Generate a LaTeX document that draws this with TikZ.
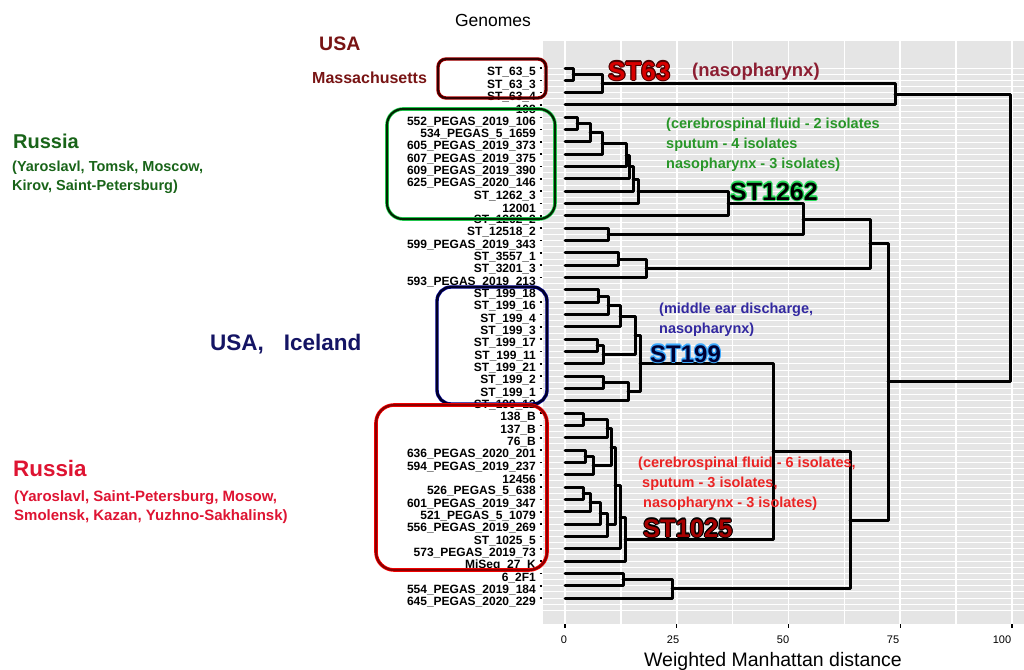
\documentclass[tikz,border=0pt]{standalone}
\usepackage{fontspec}
\setmainfont{Liberation Sans}
\usetikzlibrary{calc}
\definecolor{panel}{RGB}{229,229,229}
\definecolor{maroon}{RGB}{120,20,20}
\definecolor{rgreen}{RGB}{25,100,25}
\definecolor{navy}{RGB}{20,20,100}
\definecolor{rred}{RGB}{222,20,50}
\definecolor{nasored}{RGB}{140,30,50}
\definecolor{agreen}{RGB}{40,150,40}
\definecolor{ablue}{RGB}{50,40,160}
\definecolor{ared}{RGB}{235,35,35}
\definecolor{halogreen}{RGB}{40,220,90}
\definecolor{haloblue}{RGB}{60,170,255}
\newcommand\fsz[1]{\fontsize{#1}{#1}\selectfont}
\newcommand\halotxt[3]{%
  \rlap{\kern1.1pt\textcolor{#1}{#3}}\rlap{\kern-1.1pt\textcolor{#1}{#3}}%
  \rlap{\raisebox{1.1pt}{\textcolor{#1}{#3}}}\rlap{\raisebox{-1.1pt}{\textcolor{#1}{#3}}}%
  \rlap{\kern.8pt\raisebox{.8pt}{\textcolor{#1}{#3}}}\rlap{\kern-.8pt\raisebox{.8pt}{\textcolor{#1}{#3}}}%
  \rlap{\kern.8pt\raisebox{-.8pt}{\textcolor{#1}{#3}}}\rlap{\kern-.8pt\raisebox{-.8pt}{\textcolor{#1}{#3}}}%
  \textcolor{#2}{#3}}
\newcommand\mrg[4]{\path let \p1=($(#3)!.5!(#4)$) in coordinate (#1) at (#2pt,\y1);
  \draw[tree] (#3) -| (#1); \draw[tree] (#4) -| (#1);}
\tikzset{
  tree/.style={line width=3pt, line join=round, line cap=round},
  leaf/.style={anchor=east, inner sep=0pt, font=\bfseries\fsz{12}},
  txt/.style={anchor=base west, inner sep=0pt},
  clbox/.style={rounded corners=#1, line width=2.4pt},
}
\begin{document}
\begin{tikzpicture}[x=1pt,y=-1pt]
\useasboundingbox (0,0) rectangle (1024,669);
% panel
\fill[panel] (543,41) rectangle (1024,624);
\foreach \i in {0,...,88} {
  \pgfmathsetmacro\yy{68+12.326*(\i/2)}
  \draw[white, line width=0.9pt] (543,\yy) -- (1024,\yy);
}
\foreach \k in {0,...,8} {
  \pgfmathsetmacro\xx{565+55.875*\k}
  \draw[white, line width=1.6pt] (\xx,41) -- (\xx,624);
}
% leaves
\foreach \i/\t in {1/ST\_63\_5,2/ST\_63\_3,3/ST\_63\_4,4/108,5/552\_PEGAS\_2019\_106,6/534\_PEGAS\_5\_1659,
 7/605\_PEGAS\_2019\_373,8/607\_PEGAS\_2019\_375,9/609\_PEGAS\_2019\_390,10/625\_PEGAS\_2020\_146,
 11/ST\_1262\_3,12/12001,13/ST\_1262\_2,14/ST\_12518\_2,15/599\_PEGAS\_2019\_343,16/ST\_3557\_1,
 17/ST\_3201\_3,18/593\_PEGAS\_2019\_213,19/ST\_199\_18,20/ST\_199\_16,21/ST\_199\_4,22/ST\_199\_3,
 23/ST\_199\_17,24/ST\_199\_11,25/ST\_199\_21,26/ST\_199\_2,27/ST\_199\_1,28/ST\_199\_12,29/138\_B,
 30/137\_B,31/76\_B,32/636\_PEGAS\_2020\_201,33/594\_PEGAS\_2019\_237,34/12456,35/526\_PEGAS\_5\_638,
 36/601\_PEGAS\_2019\_347,37/521\_PEGAS\_5\_1079,38/556\_PEGAS\_2019\_269,39/ST\_1025\_5,
 40/573\_PEGAS\_2019\_73,41/MiSeq\_27\_K,42/6\_2F1,43/554\_PEGAS\_2019\_184,44/645\_PEGAS\_2020\_229} {
  \pgfmathsetmacro\yy{68+12.326*(\i-1)}
  \coordinate (l\i) at (565,\yy);
  \node[leaf] (t\i) at (536,\yy+4.3) {\t};
  \draw[line width=1.6pt] (539.5,\yy) -- (542,\yy);
}
% tree
\mrg{a1}{573}{l1}{l2}
\mrg{a2}{602}{a1}{l3}
\mrg{a3}{895}{a2}{l4}
\mrg{g1}{577}{l5}{l6}
\mrg{g2}{590}{g1}{l7}
\mrg{g3}{602}{g2}{l8}
\mrg{g4}{626}{g3}{l9}
\mrg{g5}{629}{g4}{l10}
\mrg{g6}{633}{g5}{l11}
\mrg{g7}{638}{g6}{l12}
\mrg{g8}{728}{g7}{l13}
\mrg{b1}{608}{l14}{l15}
\mrg{b2}{803}{g8}{b1}
\mrg{c1}{618}{l16}{l17}
\mrg{c2}{646}{c1}{l18}
\mrg{b3}{870}{b2}{c2}
\mrg{s1}{598}{l19}{l20}
\mrg{s2}{608}{s1}{l21}
\mrg{s3}{620}{s2}{l22}
\mrg{s4}{597}{l23}{l24}
\mrg{s5}{603}{s4}{l25}
\mrg{s6}{635}{s3}{s5}
\mrg{s7}{603}{l26}{l27}
\mrg{s8}{628}{s7}{l28}
\mrg{s9}{640}{s6}{s8}
\mrg{r1}{583}{l29}{l30}
\mrg{r2}{607}{r1}{l31}
\mrg{r3}{585}{l32}{l33}
\mrg{r4}{593}{r3}{l34}
\mrg{r5}{611}{r2}{r4}
\mrg{r6}{583}{l35}{l36}
\mrg{r7}{590}{r6}{l37}
\mrg{r8}{600}{r7}{l38}
\mrg{r9}{607}{r8}{l39}
\mrg{r10}{615}{r5}{r9}
\mrg{r11}{620}{r10}{l40}
\mrg{r12}{625}{r11}{l41}
\mrg{u1}{623}{l42}{l43}
\mrg{u2}{672}{u1}{l44}
\mrg{m1}{773}{s9}{r12}
\mrg{m2}{850}{m1}{u2}
\mrg{m3}{888}{b3}{m2}
\mrg{root}{1010}{a3}{m3}
% cluster boxes
\draw[clbox=8pt, draw=red!70!black, line width=3.4pt] (438,59) rectangle (546,98);
\draw[clbox=8pt, draw=black!80!red, line width=2pt] (438,59) rectangle (546,98);
\draw[clbox=16pt, draw=halogreen, line width=3.6pt] (387,109) rectangle (555,219);
\draw[clbox=16pt, draw=black!85!green, line width=2.2pt] (387,109) rectangle (555,219);
\draw[clbox=14pt, draw=blue!60!black, line width=3.4pt] (437,287) rectangle (547,404);
\draw[clbox=14pt, draw=black!85!blue, line width=2.2pt] (437,287) rectangle (547,404);
\draw[clbox=18pt, draw=red, line width=3.6pt] (376,405) rectangle (547,570);
\draw[clbox=18pt, draw=red!55!black, line width=2.2pt] (376,405) rectangle (547,570);
% axis
\foreach \k/\l/\lx in {0/0/564,1/25/673,2/50/783,3/75/893,4/100/1002} {
  \pgfmathsetmacro\xx{565+111.75*\k}
  \draw[line width=1.4pt] (\xx,624) -- (\xx,628);
  \node[anchor=base, inner sep=0pt, font=\fsz{11}] (tick\k) at (\lx,643) {\l};
}
\node[anchor=base, inner sep=0pt, font=\fsz{19.5}] (xtitle) at (773,666) {Weighted Manhattan distance};
\node[anchor=base, inner sep=0pt, font=\fsz{17.5}] (ytitle) at (493,27) {Genomes};
% left texts
\node[txt, text=maroon, font=\bfseries\fsz{19.5}] (usa1) at (319,51) {USA};
\node[txt, text=maroon, font=\bfseries\fsz{16}] (mass) at (312,83.5) {Massachusetts};
\node[txt, text=rgreen, font=\bfseries\fsz{20}] (rus1) at (13,148) {Russia};
\node[txt, text=rgreen, font=\bfseries\fsz{14.5}] (rus1a) at (12,171) {(Yaroslavl, Tomsk, Moscow,};
\node[txt, text=rgreen, font=\bfseries\fsz{14.5}] (rus1b) at (12,190) {Kirov, Saint-Petersburg)};
\node[txt, text=navy, font=\bfseries\fsz{22.5}] (usaice) at (210,350) {USA,\hspace{20pt}Iceland};
\node[txt, text=rred, font=\bfseries\fsz{22.4}] (rus2) at (13,476) {Russia};
\node[txt, text=rred, font=\bfseries\fsz{15}] (rus2a) at (14,501.5) {(Yaroslavl, Saint-Petersburg, Mosow,};
\node[txt, text=rred, font=\bfseries\fsz{15}] (rus2b) at (14,520) {Smolensk, Kazan, Yuzhno-Sakhalinsk)};
% right annotations
\node[txt, font=\bfseries\fsz{26}] (st63) at (608,80) {\halotxt{black!70!red}{red!85!black}{ST63}};
\node[txt, text=nasored, font=\bfseries\fsz{18.5}] (naso) at (692,76) {(nasopharynx)};
\node[txt, text=agreen, font=\bfseries\fsz{14.5}] (gn1) at (666,128) {(cerebrospinal fluid - 2 isolates};
\node[txt, text=agreen, font=\bfseries\fsz{14.5}] (gn2) at (666,148) {sputum - 4 isolates};
\node[txt, text=agreen, font=\bfseries\fsz{14.5}] (gn3) at (666,168) {nasopharynx - 3 isolates)};
\node[txt, font=\bfseries\fsz{25}] (st1262) at (730,200) {\halotxt{halogreen}{black}{ST1262}};
\node[txt, text=ablue, font=\bfseries\fsz{14.5}] (bl1) at (659,313) {(middle ear discharge,};
\node[txt, text=ablue, font=\bfseries\fsz{14.5}] (bl2) at (659,333) {nasopharynx)};
\node[txt, font=\bfseries\fsz{24}] (st199) at (650,362) {\halotxt{haloblue}{black!80!blue}{ST199}};
\node[txt, text=ared, font=\bfseries\fsz{14.5}] (rd1) at (638,467) {(cerebrospinal fluid - 6 isolates,};
\node[txt, text=ared, font=\bfseries\fsz{14.5}] (rd2) at (642,487) {sputum - 3 isolates,};
\node[txt, text=ared, font=\bfseries\fsz{14.5}] (rd3) at (643,507) {nasopharynx - 3 isolates)};
\node[txt, font=\bfseries\fsz{25.5}] (st1025) at (643,537) {\halotxt{black}{red!65!black}{ST1025}};
\end{tikzpicture}
\end{document}
